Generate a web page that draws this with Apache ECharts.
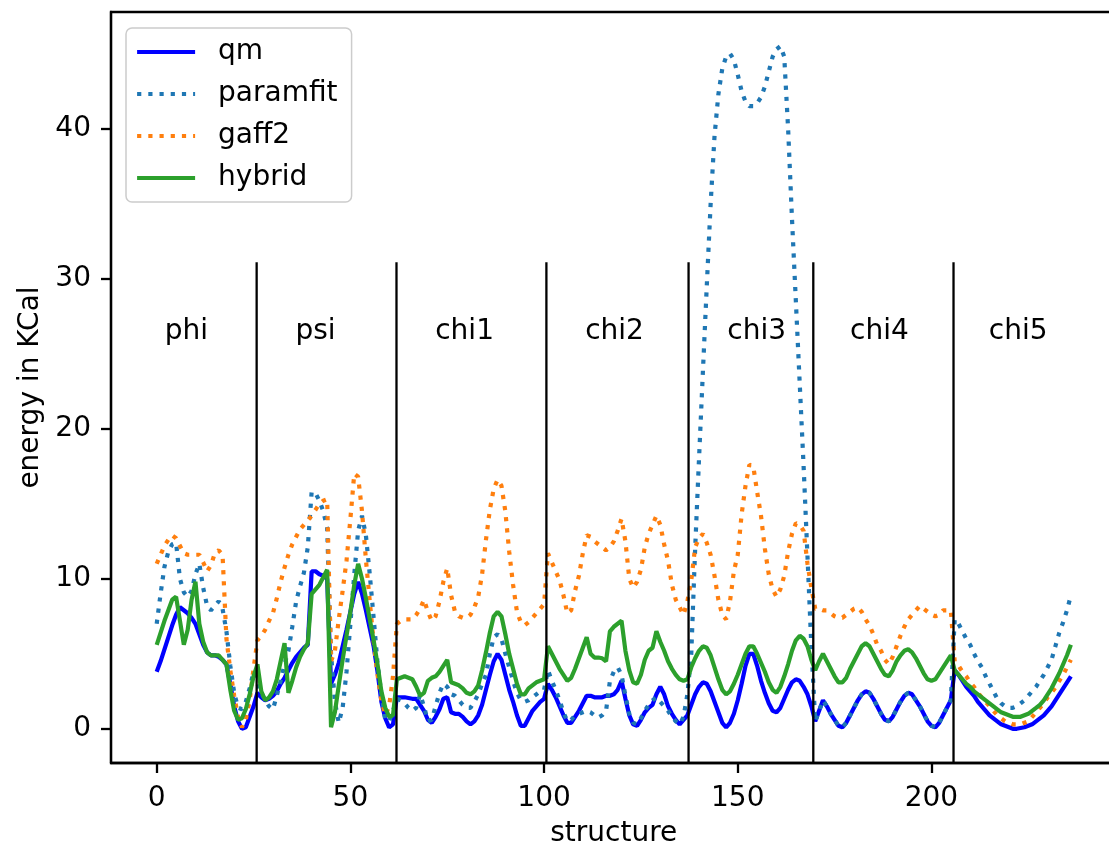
<!DOCTYPE html>
<html><head><meta charset="utf-8">
<script src="https://cdn.jsdelivr.net/npm/echarts@6/dist/echarts.min.js"></script>
<style>html,body{margin:0;padding:0;background:#fff}#c{width:1109px;height:844px}</style>
</head><body><div id="c"></div>
<script>
// structure index (x)
const structure = [...Array(237).keys()];

const qm = [
 3.8,4.5,5.3,6.1,6.9,7.6,8.1,7.9,7.7,7.4,7.0,6.3,5.6,5.1,4.9,4.9,4.8,4.6,4.3,3.0,1.5,0.5,0.0,0.1,0.8,1.5,
 2.4,2.1,1.9,2.0,2.2,2.5,3.0,3.4,3.9,4.4,4.8,5.1,5.4,5.6,10.5,10.5,10.3,10.2,10.0,3.0,3.6,4.4,5.5,6.6,7.8,9.0,9.8,9.0,7.9,6.7,5.5,3.8,1.8,0.7,0.1,0.3,
 2.1,2.1,2.1,2.05,2.0,2.0,1.6,1.2,0.6,0.4,0.8,1.3,2.0,2.1,1.1,1.0,1.0,0.8,0.5,0.3,0.5,0.9,1.6,2.6,3.6,4.5,5.0,4.6,3.6,2.6,1.8,0.9,0.2,0.2,0.7,1.2,1.5,1.8,2.0,
 3.0,2.6,2.1,1.5,0.9,0.4,0.4,0.8,1.2,1.7,2.2,2.2,2.1,2.1,2.1,2.2,2.2,2.3,2.6,3.2,2.0,0.9,0.3,0.2,0.6,1.1,1.4,1.6,2.3,2.8,2.3,1.5,1.0,0.6,0.3,0.6,0.9,
 1.6,2.3,2.8,3.1,3.0,2.5,1.8,1.1,0.4,0.1,0.4,1.0,1.9,3.0,4.2,5.0,5.0,4.2,3.2,2.4,1.7,1.2,1.1,1.4,2.0,2.6,3.1,3.3,3.2,2.8,2.3,1.5,
 0.5,1.2,1.9,1.5,1.0,0.6,0.2,0.1,0.4,0.9,1.4,1.9,2.3,2.5,2.4,2.0,1.5,1.0,0.6,0.5,0.8,1.3,1.8,2.2,2.4,2.3,1.9,1.5,1.0,0.5,0.2,0.1,0.4,0.9,1.4,1.9,
 3.9,3.6,3.2,2.8,2.5,2.2,1.8,1.5,1.2,0.9,0.7,0.5,0.3,0.2,0.1,0.0,0.0,0.05,0.1,0.2,0.3,0.5,0.7,0.9,1.2,1.5,1.9,2.3,2.7,3.1,3.5
];
const paramfit = [
 7.0,9.0,10.8,11.8,12.3,12.4,10.0,9.1,8.8,9.2,10.3,11.0,9.4,8.2,7.9,8.2,8.5,8.0,6.5,4.2,2.4,1.4,1.3,1.8,2.7,3.8,
 3.0,2.4,1.9,1.5,1.3,2.2,3.2,4.3,5.2,6.8,8.5,9.5,10.4,12.1,15.8,15.7,15.2,14.5,13.4,5.0,1.8,0.4,1.4,3.8,7.0,10.3,13.2,14.2,12.9,10.3,7.4,4.4,2.3,0.6,0.5,1.2,
 2.0,1.9,1.7,1.4,1.2,1.4,2.3,1.5,0.5,0.6,1.5,2.4,3.0,2.8,2.3,2.2,1.9,1.6,1.4,1.4,1.8,2.3,3.0,3.6,5.0,6.1,6.3,6.0,5.0,4.1,3.2,2.4,1.9,1.8,1.9,2.1,2.3,2.5,2.6,
 3.9,3.2,2.6,1.9,1.1,0.5,0.6,0.9,1.0,1.1,1.2,1.1,0.9,0.75,0.9,1.2,3.2,3.8,4.1,3.6,2.2,1.0,0.4,0.3,0.7,1.2,1.6,1.9,2.1,1.8,1.5,1.2,0.8,0.5,0.3,0.8,2.3,
 5.0,12.0,18.0,23.8,29.5,35.0,39.5,42.3,44.0,44.8,45.0,44.6,43.6,42.5,41.8,41.5,41.5,41.7,42.1,42.8,43.8,44.8,45.3,45.5,44.8,40.0,34.0,28.5,23.0,17.5,11.5,5.5,
 0.5,1.2,1.9,1.5,1.0,0.6,0.2,0.1,0.4,0.9,1.4,1.9,2.3,2.5,2.4,2.0,1.5,1.0,0.6,0.5,0.8,1.3,1.8,2.2,2.4,2.3,1.9,1.5,1.0,0.5,0.2,0.1,0.4,0.9,1.4,1.9,
 7.3,7.0,6.5,6.0,5.6,5.0,4.5,4.1,3.5,3.0,2.5,2.0,1.7,1.5,1.4,1.4,1.5,1.7,1.9,2.2,2.5,2.8,3.2,3.6,4.1,4.6,5.5,6.4,7.1,7.9,8.9
];
const gaff2 = [
 11.0,11.6,12.2,12.6,12.9,12.7,12.2,11.7,11.6,11.6,11.6,11.6,11.1,10.5,10.9,11.7,11.9,11.6,6.0,3.9,2.2,0.8,0.1,0.6,1.9,4.0,
 5.9,6.2,6.6,7.2,7.7,8.7,9.8,10.75,11.6,12.3,12.8,13.3,13.6,13.9,14.2,14.6,15.0,15.2,15.3,4.5,5.2,7.3,9.2,11.2,14.0,17.0,16.8,14.5,11.3,8.5,5.8,3.6,1.9,0.9,1.5,3.5,
 7.0,7.2,7.3,7.3,7.3,7.6,8.0,8.6,7.8,7.2,7.5,8.5,9.8,10.7,8.9,7.8,7.5,7.4,7.4,7.6,8.1,8.8,10.3,12.6,14.6,16.0,16.6,16.2,14.5,11.8,9.6,7.8,7.1,6.9,7.1,7.4,7.7,8.0,8.3,
 11.7,11.1,10.5,9.9,8.9,7.7,7.9,9.2,10.2,11.7,12.9,12.8,12.5,12.3,12.1,11.9,12.1,12.5,13.2,14.0,12.5,10.0,9.4,9.8,10.6,12.1,13.0,13.6,14.2,13.6,12.3,11.2,9.6,8.6,8.1,7.6,8.5,
 9.9,12.1,12.7,13.0,12.4,11.6,10.2,8.6,7.6,7.3,8.5,10.5,11.6,14.3,16.2,17.6,17.5,15.8,14.2,12.0,10.3,9.3,8.8,9.3,10.2,11.8,13.0,13.7,13.6,13.2,11.0,9.4,
 8.0,8.0,7.9,7.9,7.7,7.5,7.4,7.4,7.6,7.8,8.0,8.1,7.8,7.3,6.9,6.3,5.6,5.2,4.6,4.3,4.8,5.5,6.2,6.8,7.3,7.6,7.9,8.2,8.0,7.8,7.6,7.5,7.6,7.9,7.9,7.9,
 4.5,4.2,3.8,3.5,3.1,2.8,2.4,2.1,1.8,1.5,1.2,0.9,0.7,0.5,0.4,0.3,0.3,0.3,0.4,0.5,0.8,1.1,1.4,1.7,2.1,2.4,2.75,3.2,3.6,4.1,4.6
];
const hybrid = [
 5.6,6.4,7.2,7.9,8.6,8.8,7.2,5.6,6.6,8.6,9.8,7.0,5.8,5.1,4.9,4.9,4.9,4.6,4.3,2.6,1.2,0.6,0.7,1.3,2.3,3.5,
 4.3,2.5,1.9,2.1,2.5,3.3,4.5,5.7,2.4,3.2,4.1,4.8,5.3,5.7,9.0,9.3,9.6,10.1,10.6,0.1,1.1,2.9,4.6,6.2,7.8,9.6,11.0,10.0,8.7,7.3,5.9,4.3,2.5,1.4,0.8,0.9,
 3.3,3.4,3.5,3.4,3.3,2.8,2.2,2.4,3.2,3.4,3.5,3.8,4.2,4.6,3.1,3.0,2.9,2.7,2.4,2.3,2.5,2.9,3.9,5.1,6.4,7.5,7.8,7.5,6.3,5.0,4.0,3.0,2.3,2.3,2.7,2.9,3.1,3.2,3.3,
 5.5,5.0,4.5,4.0,3.6,3.2,3.4,4.0,4.7,5.4,6.1,5.0,4.75,4.75,4.7,4.5,6.5,6.8,7.0,7.2,5.2,3.9,3.1,3.0,3.6,4.6,5.2,5.4,6.5,5.8,5.2,4.5,4.0,3.6,3.3,3.2,3.3,
 4.1,4.7,5.2,5.5,5.4,4.9,4.1,3.3,2.6,2.3,2.5,3.0,3.6,4.3,5.0,5.5,5.5,5.0,4.4,3.8,3.1,2.6,2.4,2.8,3.5,4.3,5.2,5.9,6.2,6.0,5.5,4.6,
 3.9,4.5,5.0,4.5,4.0,3.5,3.1,3.1,3.4,4.0,4.5,5.0,5.5,5.7,5.5,5.0,4.5,4.0,3.6,3.5,3.9,4.5,4.9,5.2,5.3,5.1,4.7,4.2,3.7,3.3,3.2,3.3,3.7,4.1,4.5,4.9,
 3.9,3.6,3.3,3.0,2.8,2.5,2.3,2.1,1.9,1.7,1.5,1.3,1.1,1.0,0.9,0.8,0.8,0.8,0.9,1.0,1.2,1.4,1.6,1.9,2.3,2.7,3.2,3.7,4.3,4.9,5.6
];

const xTicks = [0, 50, 100, 150, 200];
const yTicks = [0, 10, 20, 30, 40];
const boundaries = [25.8, 61.9, 100.6, 137.3, 169.5, 205.7];
const boundaryTop = 31.1;
const segNames = ['phi', 'psi', 'chi1', 'chi2', 'chi3', 'chi4', 'chi5'];
const segLabelX = [2.1, 35.8, 71.9, 110.6, 147.3, 179.0, 214.8];
const segLabelY = 26.5;

const X_MIN = -11.8, X_MAX = 247.8, Y_MIN = -2.28, Y_MAX = 47.78;
const FONT = 'DejaVu Sans';
const FS = 28;

const pts = arr => structure.map((x, i) => [x, arr[i]]);
const DOT = [4.2, 7];

const series = [
  {name:'qm', type:'line', data:pts(qm), symbol:'none', lineStyle:{color:'#0000ff', width:4.2}, itemStyle:{color:'#0000ff'}},
  {name:'paramfit', type:'line', data:pts(paramfit), symbol:'none', lineStyle:{color:'#1f77b4', width:4.2, type:DOT, cap:'butt'}, itemStyle:{color:'#1f77b4'}},
  {name:'gaff2', type:'line', data:pts(gaff2), symbol:'none', lineStyle:{color:'#ff7f0e', width:4.2, type:DOT, cap:'butt'}, itemStyle:{color:'#ff7f0e'}},
  {name:'hybrid', type:'line', data:pts(hybrid), symbol:'none', lineStyle:{color:'#2ca02c', width:4.2}, itemStyle:{color:'#2ca02c'}}
];
boundaries.forEach((b, i) => {
  series.push({name:'b' + i, type:'line', data:[[b, Y_MIN], [b, boundaryTop]], symbol:'none', silent:true,
    lineStyle:{color:'#000', width:2.3}, z:5});
});
series.push({
  name:'segments', type:'scatter', symbolSize:0, silent:true, z:6,
  itemStyle:{opacity:1, color:'#000'},
  data: segNames.map((n, i) => ({name:n, value:[segLabelX[i], segLabelY]})),
  label:{show:true, position:'right', distance:0, formatter:'{b}', fontFamily:FONT, fontSize:FS, color:'#000', opacity:1}
});

const chart = echarts.init(document.getElementById('c'), null, {renderer:'canvas'});
chart.setOption({
  animation:false,
  backgroundColor:'#fff',
  textStyle:{fontFamily:FONT},
  grid:{left:111, top:12, width:1005.6, height:751, containLabel:false, outerBoundsMode:'none',
        show:true, borderColor:'#000', borderWidth:2.3, backgroundColor:'transparent'},
  legend:{
    data:['qm','paramfit','gaff2','hybrid'],
    orient:'vertical', left:126, top:28,
    itemWidth:58, itemHeight:28, itemGap:14,
    padding:[10,14,10,9],
    backgroundColor:'rgba(255,255,255,0.8)', borderColor:'#cccccc', borderWidth:1.5, borderRadius:6,
    itemStyle:{opacity:0},
    lineStyle:{width:4.2},
    textStyle:{fontFamily:FONT, fontSize:FS, color:'#000', padding:[0,0,0,18], lineHeight:28},
    selectedMode:false
  },
  xAxis:{
    type:'value', min:X_MIN, max:X_MAX,
    name:'structure', nameLocation:'middle', nameGap:57,
    nameTextStyle:{fontFamily:FONT, fontSize:FS, color:'#000'},
    axisLine:{show:true, onZero:false, lineStyle:{color:'#000', width:2.3}},
    axisTick:{show:true, customValues:xTicks, length:10, lineStyle:{color:'#000', width:2.3}},
    axisLabel:{customValues:xTicks, fontFamily:FONT, fontSize:FS, color:'#000', margin:22},
    splitLine:{show:false}
  },
  yAxis:{
    type:'value', min:Y_MIN, max:Y_MAX,
    name:'energy in KCal', nameLocation:'middle', nameGap:62,
    nameTextStyle:{fontFamily:FONT, fontSize:FS, color:'#000'},
    axisLine:{show:true, onZero:false, lineStyle:{color:'#000', width:2.3}},
    axisTick:{show:true, customValues:yTicks, length:10, lineStyle:{color:'#000', width:2.3}},
    axisLabel:{customValues:yTicks, fontFamily:FONT, fontSize:FS, color:'#000', margin:20},
    splitLine:{show:false}
  },
  series: series
});
</script>
</body></html>
